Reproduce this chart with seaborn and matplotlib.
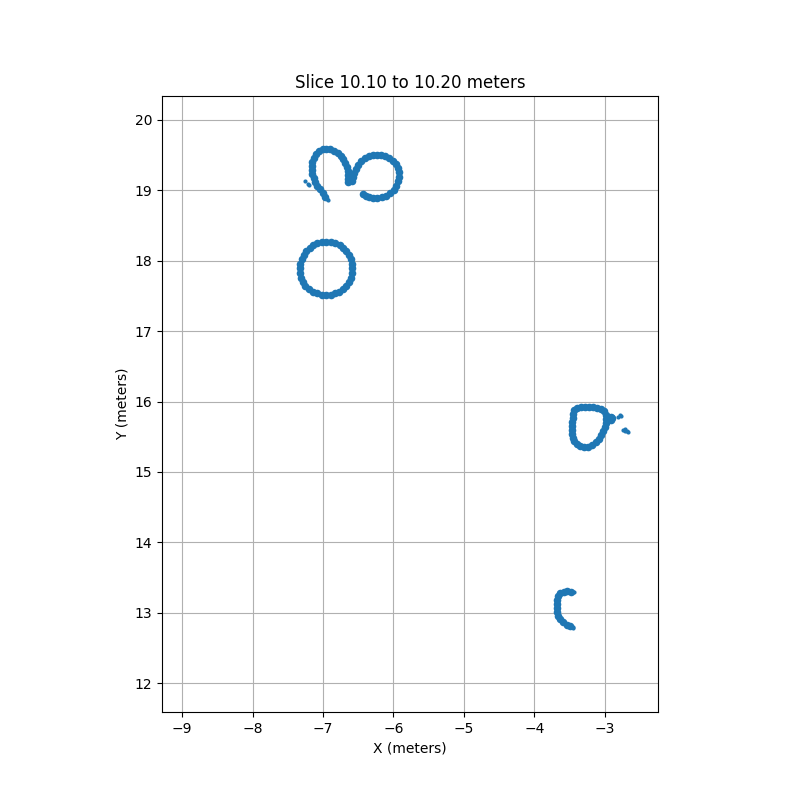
import pandas as pd
import matplotlib
matplotlib.use("Agg")
import matplotlib.pyplot as plt
import seaborn as sns

# Point cloud slice (meters)
# left horseshoe near (-6.95, 19.25)
arc_a_x = [-6.972, -7.007, -7.050, -7.085, -7.114, -7.135, -7.150, -7.157, -7.157,
           -7.150, -7.128, -7.100, -7.057, -7.007, -6.957, -6.900, -6.843, -6.793, -6.751,
           -6.715, -6.687, -6.665, -6.651, -6.651, -6.651, -6.651]
arc_a_y = [18.909, 18.966, 19.016, 19.065, 19.122, 19.179, 19.236, 19.293, 19.349,
           19.406, 19.463, 19.513, 19.555, 19.584, 19.591, 19.584, 19.563, 19.534, 19.491,
           19.442, 19.385, 19.328, 19.271, 19.214, 19.158, 19.115]

# right loop near (-6.2, 19.2)
arc_b_x = [-6.587, -6.580, -6.558, -6.534, -6.501, -6.459, -6.409, -6.352, -6.295, -6.235,
           -6.174, -6.117, -6.060, -6.010, -5.967, -5.939, -5.925, -5.925, -5.939, -5.960,
           -5.996, -6.046, -6.103, -6.167, -6.231, -6.288, -6.345, -6.395, -6.437]
arc_b_y = [19.136, 19.193, 19.250, 19.300, 19.364, 19.420, 19.463, 19.491, 19.506, 19.509,
           19.501, 19.487, 19.459, 19.420, 19.371, 19.314, 19.257, 19.193, 19.129, 19.065,
           19.009, 18.962, 18.923, 18.902, 18.888, 18.885, 18.902, 18.923, 18.945]

# full ring near (-6.95, 17.89)
ring_c_x = [-6.583, -6.589, -6.605, -6.633, -6.670, -6.712, -6.765, -6.826, -6.889, -6.953,
            -7.017, -7.080, -7.138, -7.191, -7.236, -7.273, -7.301, -7.322, -7.330, -7.330,
            -7.318, -7.290, -7.252, -7.200, -7.140, -7.080, -7.017, -6.953, -6.889, -6.826,
            -6.768, -6.715, -6.670, -6.633, -6.605, -6.589]
ring_c_y = [17.891, 17.957, 18.021, 18.081, 18.137, 18.185, 18.222, 18.250, 18.266, 18.272,
            18.266, 18.249, 18.221, 18.183, 18.137, 18.081, 18.021, 17.957, 17.891, 17.825,
            17.761, 17.697, 17.643, 17.598, 17.560, 17.535, 17.520, 17.513, 17.518, 17.535,
            17.563, 17.601, 17.647, 17.701, 17.761, 17.825]

# loop near (-3.22, 15.63), with the small clump on its right
loop_d_x = [-3.442, -3.399, -3.342, -3.285, -3.228, -3.171, -3.114, -3.057, -3.014, -2.986,
            -2.979, -2.986, -3.000, -3.021, -3.050, -3.085, -3.128, -3.178, -3.235, -3.299,
            -3.356, -3.399, -3.434, -3.456, -3.463, -3.466, -3.466, -3.463, -3.456, -3.449,
            -2.940, -2.915, -2.890, -2.905]
loop_d_y = [15.886, 15.915, 15.922, 15.925, 15.925, 15.922, 15.915, 15.901, 15.865, 15.815,
            15.759, 15.702, 15.645, 15.588, 15.531, 15.474, 15.425, 15.389, 15.361, 15.354,
            15.368, 15.396, 15.439, 15.489, 15.545, 15.602, 15.659, 15.716, 15.773, 15.830,
            15.750, 15.735, 15.760, 15.775]

# crescent near (-3.6, 13.05)
arc_e_x = [-3.480, -3.530, -3.580, -3.630, -3.658, -3.672, -3.679, -3.679, -3.672,
           -3.658, -3.630, -3.587, -3.537, -3.495]
arc_e_y = [13.298, 13.305, 13.298, 13.277, 13.234, 13.184, 13.128, 13.071, 13.014,
           12.957, 12.908, 12.865, 12.832, 12.810]

# stray returns
stray_x = [-7.256, -7.207, -7.195, -6.936, -6.945, -2.808, -2.768, -2.775,
           -2.744, -2.715, -2.687, -2.665, -2.715, -3.440, -3.455, -3.450]
stray_y = [19.136, 19.094, 19.080, 18.859, 18.870, 15.785, 15.797, 15.815,
           15.602, 15.581, 15.588, 15.567, 15.616, 13.291, 12.795, 12.785]

slice_lo, slice_hi = 10.10, 10.20

rings = pd.DataFrame({
    'x': arc_a_x + arc_b_x + ring_c_x + loop_d_x + arc_e_x,
    'y': arc_a_y + arc_b_y + ring_c_y + loop_d_y + arc_e_y,
})
strays = pd.DataFrame({'x': stray_x, 'y': stray_y})

fig, ax = plt.subplots(figsize=(8, 8), dpi=100)

sns.scatterplot(data=rings, x='x', y='y', s=30, color='#1f77b4', linewidth=0, ax=ax)
sns.scatterplot(data=strays, x='x', y='y', s=9, color='#1f77b4', linewidth=0, ax=ax)

ax.set_xlim(-9.285, -2.245)
ax.set_ylim(11.59, 20.34)
ax.set_aspect('equal')
ax.grid(True)
ax.set_axisbelow(True)

ax.set_title(f'Slice {slice_lo:.2f} to {slice_hi:.2f} meters')
ax.set_xlabel('X (meters)')
ax.set_ylabel('Y (meters)')

fig.savefig('out.png', dpi=100)
